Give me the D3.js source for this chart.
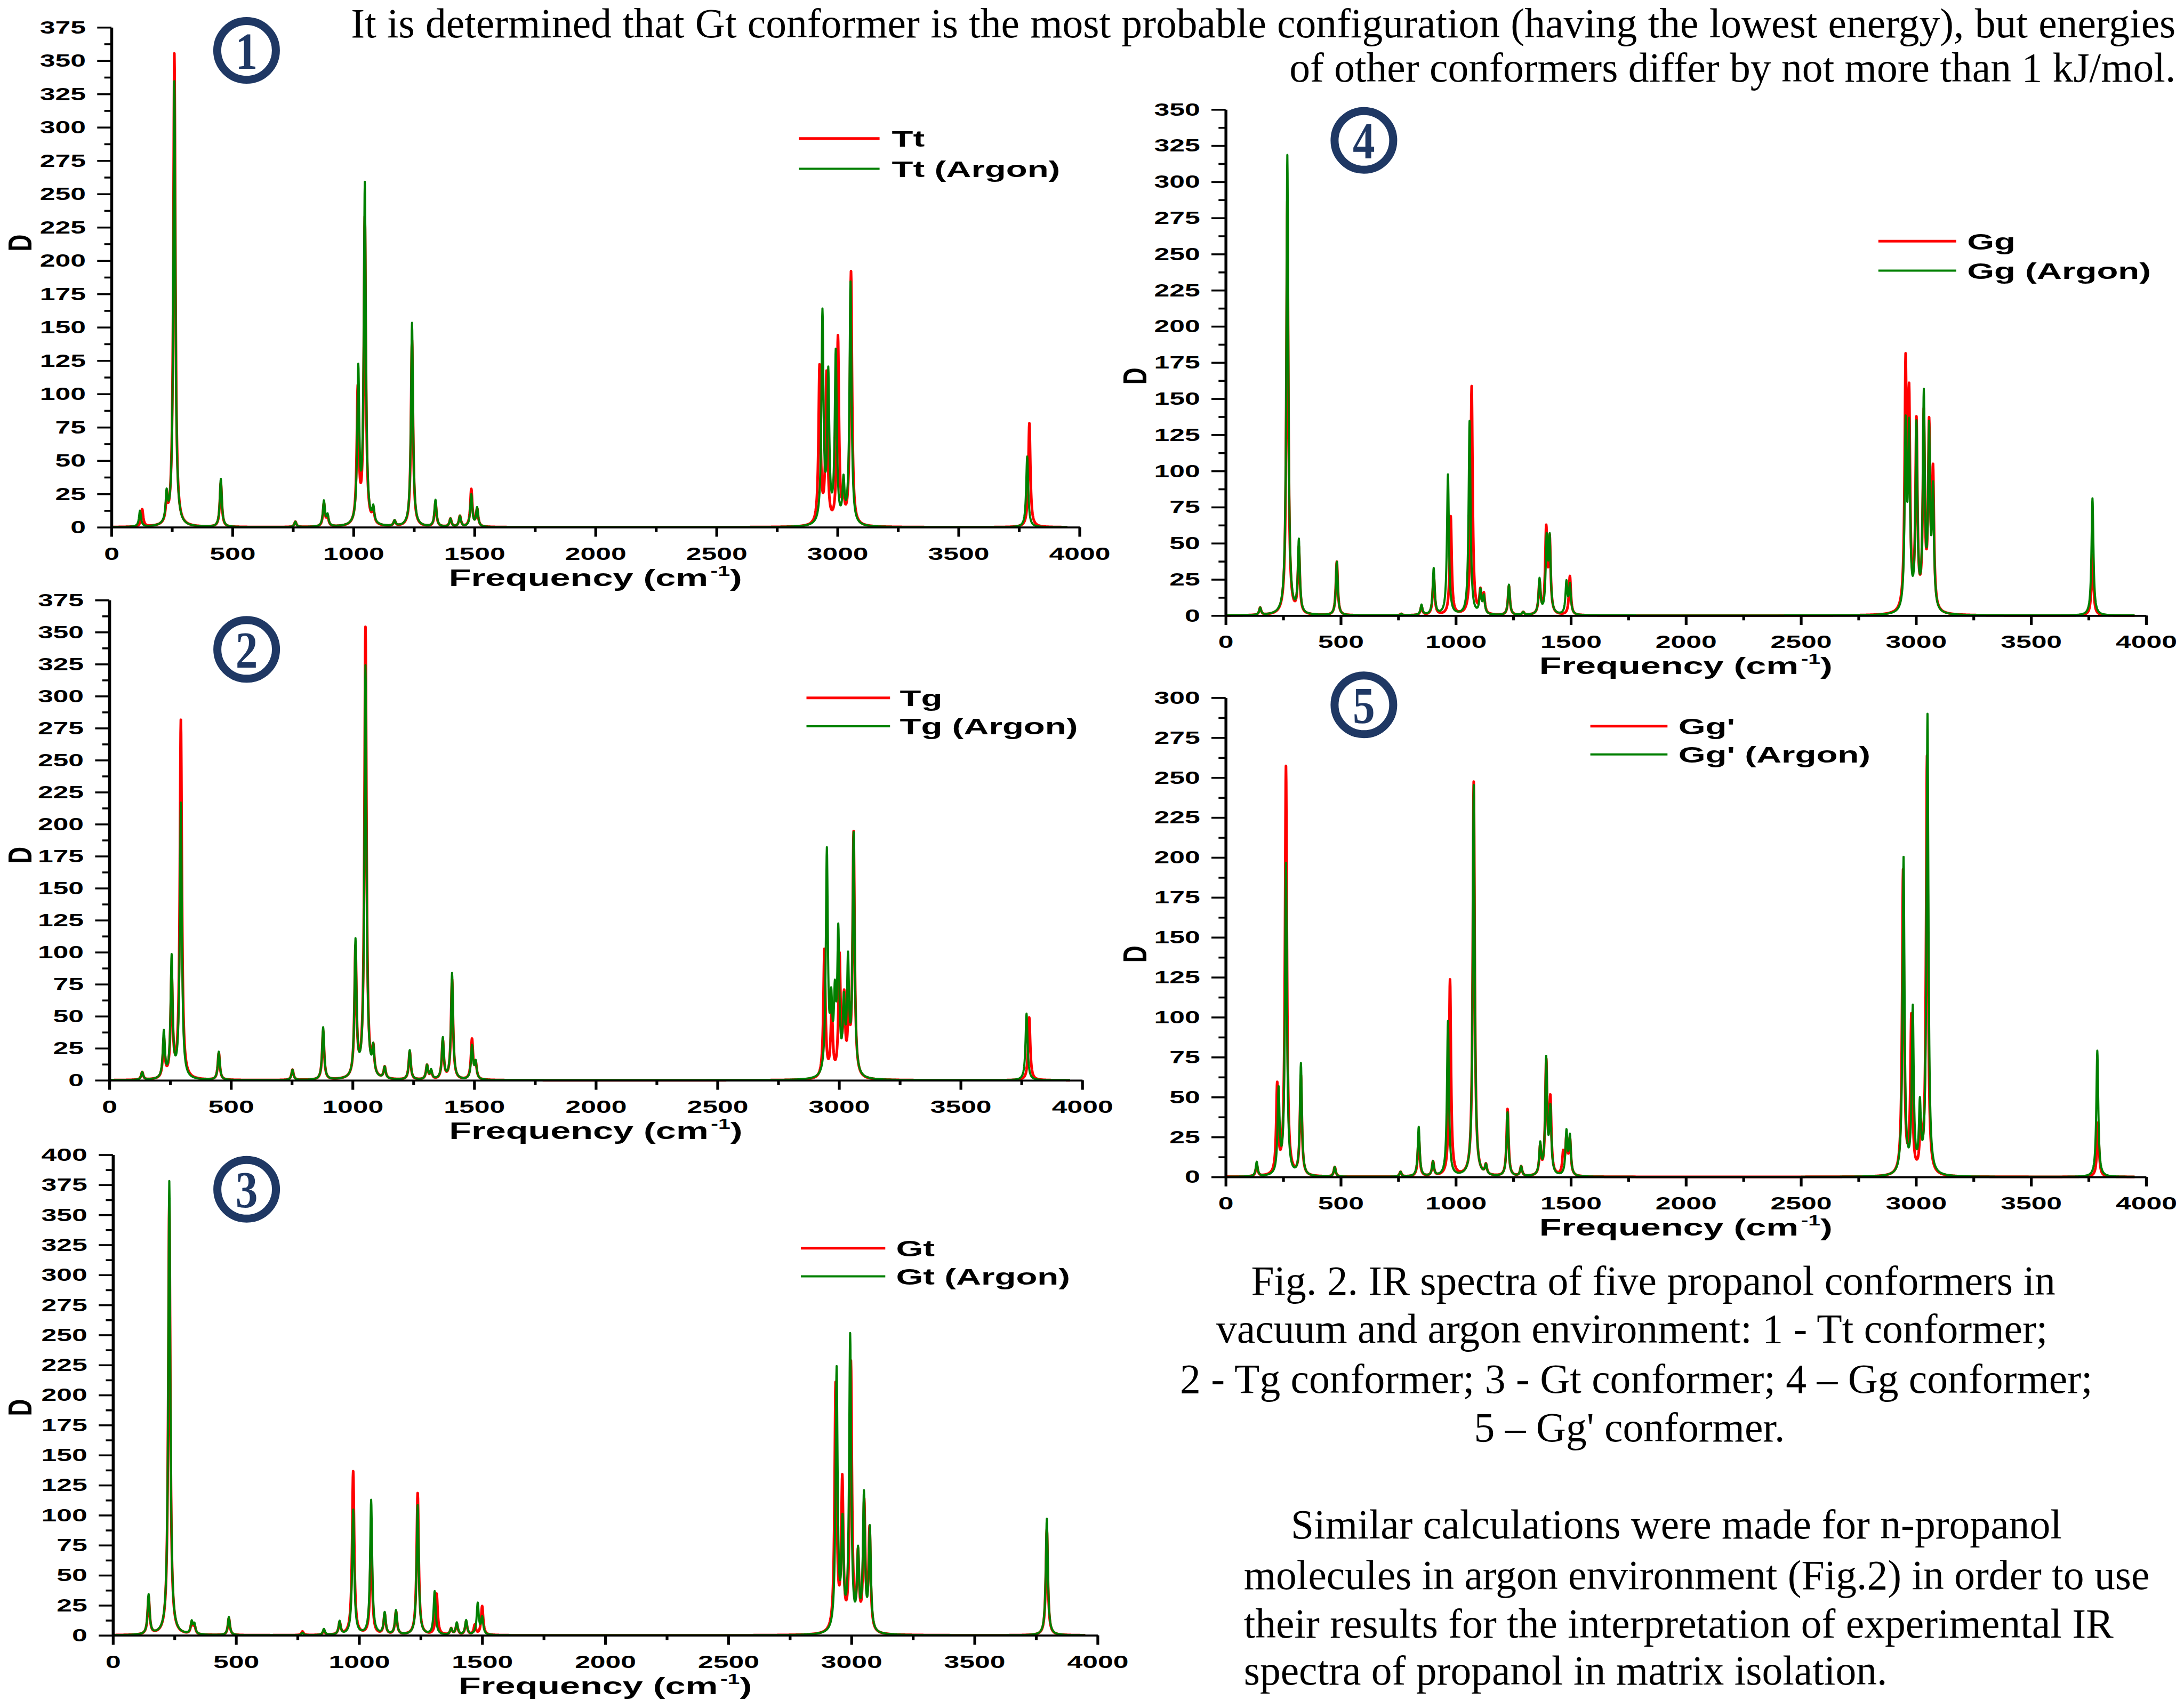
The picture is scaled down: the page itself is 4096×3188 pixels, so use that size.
<!DOCTYPE html>
<html>
<head>
<meta charset="utf-8">
<script src="https://cdn.jsdelivr.net/npm/d3@7"></script>
<style>
body { margin: 0; background: #fff; }
svg { display: block; background: #fff; }
</style>
</head>
<body>
<svg id="chart" width="4096" height="3188"></svg>
<script>
// Peak lists: [frequency (cm-1), intensity D]
const TT_VACUUM = [[127,13],[228,14],[260,355],[452,33],[760,4],[878,17],[893,7],[1018,100],[1047,230],[1082,10],[1170,4],[1242,140],[1339,18],[1401,6],[1440,8],[1487,28],[1511,13],[2926,118],[2955,112],[3002,140],[3025,16],[3056,190],[3793,78]];
const TT_ARGON = [[118,12],[228,21],[260,334],[452,36],[760,4],[878,19],[893,8],[1020,114],[1047,255],[1082,11],[1170,4],[1242,153],[1339,20],[1401,6],[1440,8],[1487,24],[1511,14],[2938,158],[2962,110],[2993,128],[3025,30],[3054,182],[3784,53]];

const TG_VACUUM = [[135,6],[224,30],[256,80],[294,280],[450,21],[753,8],[879,38],[1012,100],[1053,352],[1085,20],[1132,9],[1235,22],[1306,11],[1323,6],[1371,30],[1409,78],[1491,31],[1506,12],[2940,100],[2970,52],[3002,92],[3021,58],[3040,45],[3060,190],[3782,49]];
const TG_ARGON = [[135,6],[224,36],[256,94],[294,215],[450,22],[753,8],[879,41],[1012,106],[1053,322],[1085,21],[1132,9],[1235,23],[1306,11],[1323,7],[1371,32],[1409,83],[1491,26],[1506,13],[2950,175],[2968,50],[2983,55],[2997,108],[3020,52],[3037,85],[3060,188],[3771,52]];

const GT_VACUUM = [[145,31],[229,360],[320,9],[331,7],[471,14],[770,3],[857,4],[921,10],[976,136],[1049,80],[1104,17],[1150,19],[1238,118],[1315,34],[1374,5],[1397,9],[1435,11],[1470,8],[1500,24],[2936,205],[2963,122],[2998,222],[3027,60],[3052,105],[3074,84],[3794,88]];
const GT_ARGON = [[145,33],[229,378],[320,10],[331,8],[471,15],[770,2],[857,5],[921,11],[976,104],[1049,112],[1104,18],[1150,20],[1238,108],[1307,36],[1374,5],[1397,10],[1435,12],[1482,26],[1500,14],[2940,218],[2964,85],[2995,245],[3027,62],[3051,112],[3075,85],[3794,97]];

const GG_VACUUM = [[150,5],[268,286],[318,45],[483,37],[763,1],[851,6],[904,28],[978,68],[1069,158],[1107,15],[1122,13],[1231,20],[1293,2],[1364,22],[1393,57],[1408,50],[1496,27],[2955,165],[2970,140],[3002,128],[3034,132],[3057,122],[3074,92],[3767,42]];
const GG_ARGON = [[150,5],[268,318],[318,50],[483,37],[763,1],[851,7],[904,32],[966,97],[1060,134],[1107,16],[1122,12],[1231,21],[1293,2],[1364,24],[1395,50],[1408,50],[1481,22],[1496,20],[2955,124],[2970,120],[3002,126],[3034,146],[3057,120],[3074,80],[3767,81]];

const GGP_VACUUM = [[135,7],[224,55],[262,256],[327,62],[474,6],[760,3],[839,25],[901,9],[975,123],[1078,247],[1131,6],[1225,42],[1284,6],[1367,17],[1393,70],[1411,46],[1467,13],[1481,22],[1496,22],[2944,190],[2980,97],[3020,26],[3048,262],[3791,34]];
const GGP_ARGON = [[135,9],[230,52],[262,195],[327,70],[474,6],[760,3],[839,31],[901,9],[966,97],[1078,245],[1131,6],[1225,40],[1284,6],[1367,19],[1393,72],[1411,40],[1481,27],[1496,24],[2946,198],[2986,102],[3017,40],[3050,288],[3788,79]];

const CONFORMERS = ["Tt", "Tg", "Gt", "Gg", "Gg'"];
const Y_MAXES = [375, 375, 400, 350, 300];
const X_TICKS = [0, 500, 1000, 1500, 2000, 2500, 3000, 3500, 4000];
const X_MINOR_TICKS = [250, 750, 1250, 1750, 2250, 2750, 3250, 3750];

const TOP_LINES = [
    "It is determined that Gt conformer is the most probable configuration (having the lowest energy), but energies",
    "of other conformers differ by not more than 1 kJ/mol."
];
const CAPTION_LINES = [
    "Fig. 2. IR spectra of five propanol conformers in",
    "vacuum and argon environment: 1 - Tt conformer;",
    "2 - Tg conformer; 3 - Gt conformer; 4 \u2013 Gg conformer;",
    "5 \u2013 Gg' conformer."
];
const PARAGRAPH_LINES = [
    "Similar calculations were made for n-propanol",
    "molecules in argon environment (Fig.2) in order to use",
    "their results for the interpretation of experimental IR",
    "spectra of propanol in matrix isolation."
];

const HWHM = 5;
const FREQ_MAX = 3950;
const RED = "#ff0000";
const GREEN = "#008000";
const NAVY = "#1f3864";
const SANS = "'Liberation Sans', Arial, sans-serif";
const SERIF = "'Liberation Serif', 'Times New Roman', serif";
const STRETCH = 1.52;      // the graphs were pasted horizontally stretched
const SERIF_SIZE = 77.6;

// panel placement (page pixels)
const PANELS = [
    {num: "1", vac: TT_VACUUM, ar: TT_ARGON, left: 209, right: 2024.5, bottom: 988.7, top: 51.2,
     badge: [462.4, 94.6], legend: [1498.1, 1649.6, 259.7, 316.6, 1672.6], dLabel: [37, 455.6]},
    {num: "2", vac: TG_VACUUM, ar: TG_ARGON, left: 205.1, right: 2029.7, bottom: 2025.8, top: 1125.3,
     badge: [462.6, 1217.8], legend: [1512.5, 1669.2, 1308.7, 1362.0, 1687.5], dLabel: [37, 1603.9]},
    {num: "3", vac: GT_VACUUM, ar: GT_ARGON, left: 211.8, right: 2058.4, bottom: 3066.7, top: 2165.5,
     badge: [462.6, 2230.3], legend: [1502, 1660.3, 2340.8, 2393.6, 1680.4], dLabel: [37, 2639.6]},
    {num: "4", vac: GG_VACUUM, ar: GG_ARGON, left: 2298.7, right: 4024.9, bottom: 1154.3, top: 205.3,
     badge: [2557.9, 263.3], legend: [3522.8, 3668.8, 452.2, 507.5, 3689.2], dLabel: [2128, 705.3]},
    {num: "5", vac: GGP_VACUUM, ar: GGP_ARGON, left: 2298.7, right: 4024.9, bottom: 2207.1, top: 1308.4,
     badge: [2557.9, 1321.8], legend: [2982.6, 3127.3, 1361.7, 1414.8, 3147.7], dLabel: [2128, 1789.4]}
];

function broaden(peaks) {
    var pts = [];
    for (var f = 0; f <= FREQ_MAX; f += 1) {
        var v = 0;
        for (var i = 0; i < peaks.length; i++) {
            var u = (f - peaks[i][0]) / HWHM;
            v += peaks[i][1] / (1 + u * u);
        }
        pts.push([f, v]);
    }
    return pts;
}

var svg = d3.select("#chart");

PANELS.forEach(function(p, idx) {
    var yMax = Y_MAXES[idx];
    var name = CONFORMERS[idx];
    var x = d3.scaleLinear().domain([0, 4000]).range([p.left, p.right]);
    var y = d3.scaleLinear().domain([0, yMax]).range([p.bottom, p.top]);
    var g = svg.append("g");

    // spectra, vacuum under argon
    var line = d3.line()
        .x(function(d) { return x(d[0]); })
        .y(function(d) { return y(d[1]); });
    g.append("path")
        .attr("d", line(broaden(p.vac)))
        .attr("fill", "none")
        .attr("stroke", RED)
        .attr("stroke-width", 5)
        .attr("stroke-linejoin", "round");
    g.append("path")
        .attr("d", line(broaden(p.ar)))
        .attr("fill", "none")
        .attr("stroke", GREEN)
        .attr("stroke-width", 4)
        .attr("stroke-linejoin", "round");

    // x axis
    var xAxis = g.append("g")
        .attr("transform", "translate(0," + p.bottom + ")")
        .call(d3.axisBottom(x).tickValues(X_TICKS).tickFormat(d3.format("d"))
            .tickSize(17.8).tickSizeOuter(0));
    xAxis.select(".domain").attr("stroke-width", 3.8);
    xAxis.selectAll(".tick line").attr("stroke-width", 5.2);
    xAxis.selectAll("text")
        .attr("y", 61)
        .attr("dy", 0)
        .attr("transform", "scale(" + STRETCH + ",1)")
        .attr("font-family", SANS)
        .attr("font-weight", "bold")
        .attr("font-size", 34)
        .attr("fill", "#000");
    g.append("g")
        .attr("transform", "translate(0," + p.bottom + ")")
        .call(d3.axisBottom(x).tickValues(X_MINOR_TICKS).tickSize(9).tickFormat(""))
        .call(function(s) { s.select(".domain").remove(); })
        .selectAll(".tick line").attr("stroke-width", 5.2);

    // y axis
    var yAxis = g.append("g")
        .attr("transform", "translate(" + p.left + ",0)")
        .call(d3.axisLeft(y).tickValues(d3.range(0, yMax + 1, 25)).tickFormat(d3.format("d"))
            .tickSize(26.7).tickSizeOuter(0));
    yAxis.select(".domain").attr("stroke-width", 5.5);
    yAxis.selectAll(".tick line").attr("stroke-width", 3.6);
    yAxis.selectAll("text")
        .attr("x", -48 / STRETCH)
        .attr("transform", "scale(" + STRETCH + ",1)")
        .attr("font-family", SANS)
        .attr("font-weight", "bold")
        .attr("font-size", 34)
        .attr("fill", "#000");
    g.append("g")
        .attr("transform", "translate(" + p.left + ",0)")
        .call(d3.axisLeft(y).tickValues(d3.range(12.5, yMax, 25)).tickSize(13.4).tickFormat(""))
        .call(function(s) { s.select(".domain").remove(); })
        .selectAll(".tick line").attr("stroke-width", 3.6);

    // axis titles
    var title = g.append("text")
        .attr("transform", "translate(" + ((p.left + p.right) / 2) + "," + (p.bottom + 110) + ") scale(" + STRETCH + ",1)")
        .attr("text-anchor", "middle")
        .attr("font-family", SANS)
        .attr("font-weight", "bold")
        .attr("font-size", 45);
    title.append("tspan").text("Frequency (cm");
    title.append("tspan").attr("font-size", 27).attr("dy", -19).attr("dx", 3).text("-1");
    title.append("tspan").attr("dy", 19).text(")");

    g.append("text")
        .attr("transform", "translate(" + p.dLabel[0] + "," + p.dLabel[1] + ") scale(1.45,1) rotate(-90)")
        .attr("text-anchor", "middle")
        .attr("dominant-baseline", "central")
        .attr("font-family", SANS)
        .attr("font-weight", "bold")
        .attr("font-size", 44)
        .text("D");

    // legend
    var lg = p.legend;
    [[RED, 5, lg[2], name], [GREEN, 4, lg[3], name + " (Argon)"]].forEach(function(item) {
        g.append("line")
            .attr("x1", lg[0]).attr("x2", lg[1])
            .attr("y1", item[2]).attr("y2", item[2])
            .attr("stroke", item[0])
            .attr("stroke-width", item[1]);
        g.append("text")
            .attr("transform", "translate(" + lg[4] + "," + (item[2] + 15.4) + ") scale(" + STRETCH + ",1)")
            .attr("font-family", SANS)
            .attr("font-weight", "bold")
            .attr("font-size", 43)
            .text(item[3]);
    });

    // circled panel number
    g.append("circle")
        .attr("cx", p.badge[0])
        .attr("cy", p.badge[1])
        .attr("r", 55)
        .attr("fill", "none")
        .attr("stroke", NAVY)
        .attr("stroke-width", 15);
    g.append("text")
        .attr("transform", "translate(" + p.badge[0] + "," + (p.badge[1] + 34) + ") scale(0.85,1)")
        .attr("text-anchor", "middle")
        .attr("font-family", SERIF)
        .attr("font-weight", "bold")
        .attr("font-size", 98)
        .attr("fill", NAVY)
        .text(p.num);
});

// body text around the figure
function serifText(str, xPos, yPos, anchor) {
    return svg.append("text")
        .attr("x", xPos)
        .attr("y", yPos)
        .attr("text-anchor", anchor)
        .attr("font-family", SERIF)
        .attr("font-size", SERIF_SIZE)
        .attr("fill", "#000")
        .text(str);
}

// first line is justified between its two edges
var topLine = serifText(TOP_LINES[0], 658.3, 70, "start");
var natural = topLine.node().getComputedTextLength();
var gaps = TOP_LINES[0].split(" ").length - 1;
topLine.attr("word-spacing", (4080.3 - 658.3 - natural) / gaps);
serifText(TOP_LINES[1], 4080.3, 153, "end");

var captionX = [3100.6, 3060.7, 3068.8, 3055.9];
var captionY = [2428.3, 2518.2, 2612.2, 2703.4];
CAPTION_LINES.forEach(function(t, i) {
    serifText(t, captionX[i], captionY[i], "middle");
});

var paraX = [2421, 2332.7, 2332.7, 2332.7];
var paraY = [2885.4, 2979.5, 3070.6, 3159];
PARAGRAPH_LINES.forEach(function(t, i) {
    serifText(t, paraX[i], paraY[i], "start");
});
</script>
</body>
</html>
